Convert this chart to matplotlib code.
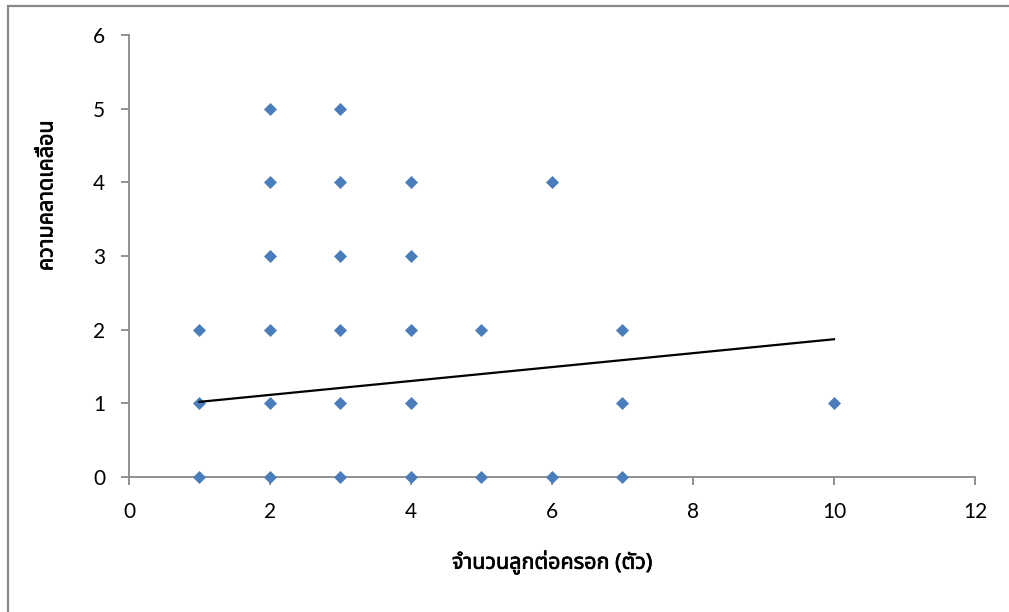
import matplotlib
matplotlib.use("Agg")
import matplotlib.pyplot as plt
import matplotlib.patheffects as pe
from matplotlib.patches import Rectangle

# Source data
x_vals = [1, 1, 1,
          2, 2, 2, 2, 2, 2,
          3, 3, 3, 3, 3, 3,
          4, 4, 4, 4, 4,
          5, 5,
          6, 6,
          7, 7, 7,
          10]
y_vals = [0, 1, 2,
          0, 1, 2, 3, 4, 5,
          0, 1, 2, 3, 4, 5,
          0, 1, 2, 3, 4,
          0, 2,
          0, 4,
          0, 1, 2,
          1]
# linear trendline as drawn (Excel), read from its two ends
trend_x = [1, 10]
trend_y = [1.02, 1.87]

x_label = "จำนวนลูกต่อครอก (ตัว)"
y_label = "ความคลาดเคลื่อน"
x_ticks = [0, 2, 4, 6, 8, 10, 12]
y_ticks = [0, 1, 2, 3, 4, 5, 6]

thai_fonts = ["Noto Sans Thai", "Noto Sans Thai UI", "Loma", "Garuda", "Tahoma", "DejaVu Sans"]
tick_font = ["Lato", "DejaVu Sans"]

fig = plt.figure(figsize=(10.09, 6.12), dpi=100)
ax = fig.add_axes([0.1278, 0.2206, 0.8385, 0.7222])

# chart area border
fig.patches.append(Rectangle((8 / 1009, -0.01), 1.0, 1 - 5.5 / 612 + 0.01,
                             transform=fig.transFigure, fill=False,
                             edgecolor="#888888", linewidth=1.6))

gray = "#888888"
ax.scatter(x_vals, y_vals, marker="D", s=44, color="#4A7EBB", zorder=3,
           clip_on=False, linewidths=0)
ax.plot(trend_x, trend_y, color="black", linewidth=1.6, zorder=4)

ax.set_xlim(0, 12)
ax.set_ylim(0, 6)
ax.set_xticks(x_ticks)
ax.set_yticks(y_ticks)

for side in ["top", "right"]:
    ax.spines[side].set_visible(False)
for side in ["left", "bottom"]:
    ax.spines[side].set_color(gray)
    ax.spines[side].set_linewidth(1.3)

ax.tick_params(axis="both", direction="out", length=6, width=1.3, color=gray,
               labelsize=15, labelcolor="black")
ax.tick_params(axis="x", pad=12)
ax.tick_params(axis="y", pad=11)
for lab in ax.get_xticklabels() + ax.get_yticklabels():
    lab.set_family(tick_font)

bold = [pe.withStroke(linewidth=0.5, foreground="black")]
ax.set_xlabel(x_label, family=thai_fonts, fontsize=15.5, fontweight="bold",
              va="center", ha="center", path_effects=bold)
ax.set_ylabel(y_label, family=thai_fonts, fontsize=15.5, fontweight="bold",
              va="center", ha="center", path_effects=bold)
ax.xaxis.set_label_coords(0.5, -0.192)
ax.yaxis.set_label_coords(-0.097, 0.636)

fig.savefig("out.png", dpi=100)
